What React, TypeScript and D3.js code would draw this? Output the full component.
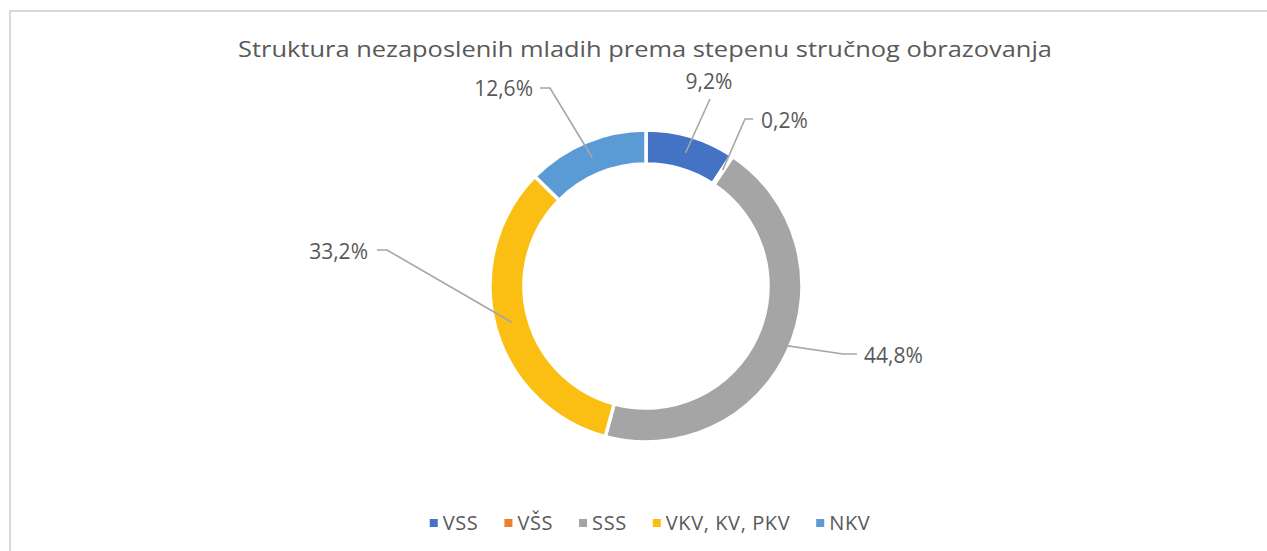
import React, { useEffect, useRef } from "react";
import * as d3 from "d3";

const categories = ["VSS", "VŠS", "SSS", "VKV, KV, PKV", "NKV"];
const values = [9.2, 0.2, 44.8, 33.2, 12.6];
const labels = ["9,2%", "0,2%", "44,8%", "33,2%", "12,6%"];
const colors = ["#4472C4", "#ED7D31", "#A5A5A5", "#FBBF14", "#5B9BD5"];
const title = "Struktura nezaposlenih mladih prema stepenu stručnog obrazovanja";

// layout for the data labels: elbow / end of leader line, text anchor
const labelLayout = [
  { pts: [[710, 99]], tx: 709, ty: 89, anchor: "middle" },
  { pts: [[745, 119], [753, 119]], tx: 761, ty: 128, anchor: "start" },
  { pts: [[843, 354], [857, 354]], tx: 864, ty: 363, anchor: "start" },
  { pts: [[387, 250], [377, 250]], tx: 368, ty: 259, anchor: "end" },
  { pts: [[550, 88], [540, 88]], tx: 533, ty: 96, anchor: "end" },
];

const W = 1267;
const H = 551;
const CX = 646;
const CY = 286;
const R_OUT = 156;
const R_IN = 122;
const FONT = "'Open Sans', sans-serif";
const TEXT = "#595959";

export default function App() {
  const ref = useRef<SVGSVGElement | null>(null);

  useEffect(() => {
    const svg = d3.select(ref.current);
    svg.selectAll("*").remove();

    svg
      .append("rect")
      .attr("x", 10)
      .attr("y", 11)
      .attr("width", 1400)
      .attr("height", 700)
      .attr("fill", "#fff")
      .attr("stroke", "#d9d9d9")
      .attr("stroke-width", 2);

    svg
      .append("text")
      .attr("x", 645)
      .attr("y", 57)
      .attr("text-anchor", "middle")
      .attr("font-family", FONT)
      .attr("font-size", 22.4)
      .attr("fill", TEXT)
      .attr("textLength", 814)
      .attr("lengthAdjust", "spacingAndGlyphs")
      .text(title);

    const pie = d3
      .pie<number>()
      .sort(null)
      .value((d) => d);
    const arcs = pie(values);
    const arc = d3.arc<d3.PieArcDatum<number>>().innerRadius(R_IN).outerRadius(R_OUT);
    const mid = d3
      .arc<d3.PieArcDatum<number>>()
      .innerRadius((R_IN + R_OUT) / 2)
      .outerRadius((R_IN + R_OUT) / 2);

    const g = svg.append("g").attr("transform", `translate(${CX},${CY})`);
    g.selectAll("path")
      .data(arcs)
      .enter()
      .append("path")
      .attr("d", arc as any)
      .attr("fill", (_, i) => colors[i])
      .attr("stroke", "#fff")
      .attr("stroke-width", 3.5)
      .attr("stroke-linejoin", "miter");

    arcs.forEach((a, i) => {
      const c = mid.centroid(a);
      const lay = labelLayout[i];
      const pts: [number, number][] = [[CX + c[0], CY + c[1]], ...(lay.pts as [number, number][])];
      svg
        .append("path")
        .attr("d", d3.line()(pts))
        .attr("fill", "none")
        .attr("stroke", "#a6a6a6")
        .attr("stroke-width", 1.6);
      svg
        .append("text")
        .attr("x", lay.tx)
        .attr("y", lay.ty)
        .attr("text-anchor", lay.anchor)
        .attr("font-family", FONT)
        .attr("font-size", 21)
        .attr("fill", TEXT)
        .text(labels[i]);
    });

    // legend
    const lg = svg.append("g");
    const items = categories.map((c, i) => {
      const gi = lg.append("g");
      gi.append("rect")
        .attr("width", 8)
        .attr("height", 8)
        .attr("y", -4)
        .attr("fill", colors[i]);
      const t = gi
        .append("text")
        .attr("x", 13)
        .attr("y", 7)
        .attr("font-family", FONT)
        .attr("font-size", 20)
        .attr("letter-spacing", 0.6)
        .attr("fill", TEXT)
        .text(c);
      const w = 13 + (t.node() as SVGTextElement).getComputedTextLength();
      return { gi, w };
    });
    const gap = 26;
    const total = items.reduce((s, it) => s + it.w, 0) + gap * (items.length - 1);
    let x = 650 - total / 2;
    items.forEach((it) => {
      it.gi.attr("transform", `translate(${x},523)`);
      x += it.w + gap;
    });
  }, []);

  return (
    <svg
      ref={ref}
      width={W}
      height={H}
      style={{ position: "absolute", left: 0, top: 0, background: "#fff" }}
    />
  );
}
